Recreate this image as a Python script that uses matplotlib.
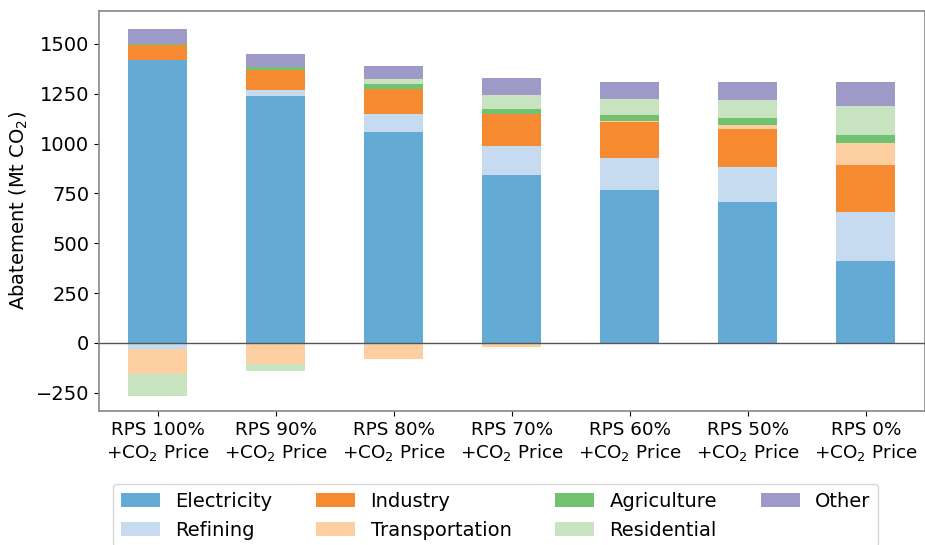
import numpy as np
import matplotlib
matplotlib.use("Agg")
import matplotlib.pyplot as plt

scenarios = ["RPS 100%", "RPS 90%", "RPS 80%", "RPS 70%", "RPS 60%", "RPS 50%", "RPS 0%"]
sectors = ["Electricity", "Refining", "Industry", "Transportation",
           "Agriculture", "Residential", "Other"]

electricity = [1420, 1240, 1060, 843, 768, 707, 411]
refining = [-30, 30, 90, 145, 160, 176, 246]
industry = [73, 100, 125, 162, 181, 191, 236]
transportation = [-124, -104, -80, -18, 5, 20, 110]
agriculture = [5, 15, 25, 25, 30, 35, 41]
residential = [-112, -37, 25, 70, 80, 90, 145]
other = [77, 65, 65, 85, 85, 90, 120]

colors = ["#63aad5", "#c6dbef", "#f68a30", "#fdcea0",
          "#70c271", "#c8e3c0", "#9e9ac8"]

series = [electricity, refining, industry, transportation,
          agriculture, residential, other]

plt.rcParams["font.family"] = "DejaVu Sans"
fs = 14

fig = plt.figure(figsize=(9.25, 5.45), dpi=100)
ax = fig.add_axes([0.107, 0.246, 0.893, 0.734])

x = np.arange(len(scenarios))
pos_base = np.zeros(len(scenarios))
neg_base = np.zeros(len(scenarios))
for name, vals, col in zip(sectors, series, colors):
    v = np.asarray(vals, dtype=float)
    bottom = np.where(v >= 0, pos_base, neg_base)
    ax.bar(x, v, width=0.5, bottom=bottom, color=col, label=name, linewidth=0)
    pos_base += np.where(v >= 0, v, 0)
    neg_base += np.where(v < 0, v, 0)

ax.axhline(0, color="#555555", linewidth=1.0, zorder=3)
ax.set_xlim(-0.5, len(scenarios) - 0.5)
ax.set_ylim(-341, 1666)

ax.set_xticks(x)
ax.set_xticklabels([f"{s}\n+CO$_2$ Price" for s in scenarios], fontsize=13.2)
ax.set_yticks([-250, 0, 250, 500, 750, 1000, 1250, 1500])
ax.tick_params(axis="y", labelsize=fs)
ax.set_ylabel("Abatement (Mt CO$_2$)", fontsize=fs)

for sp in ax.spines.values():
    sp.set_color("#888888")
    sp.set_linewidth(1.2)

fig.legend(loc="upper left", bbox_to_anchor=(113 / 925, 1 - 484 / 545),
           ncol=4, fontsize=fs, columnspacing=2.25, borderaxespad=0)

fig.savefig("out.png", dpi=100)
